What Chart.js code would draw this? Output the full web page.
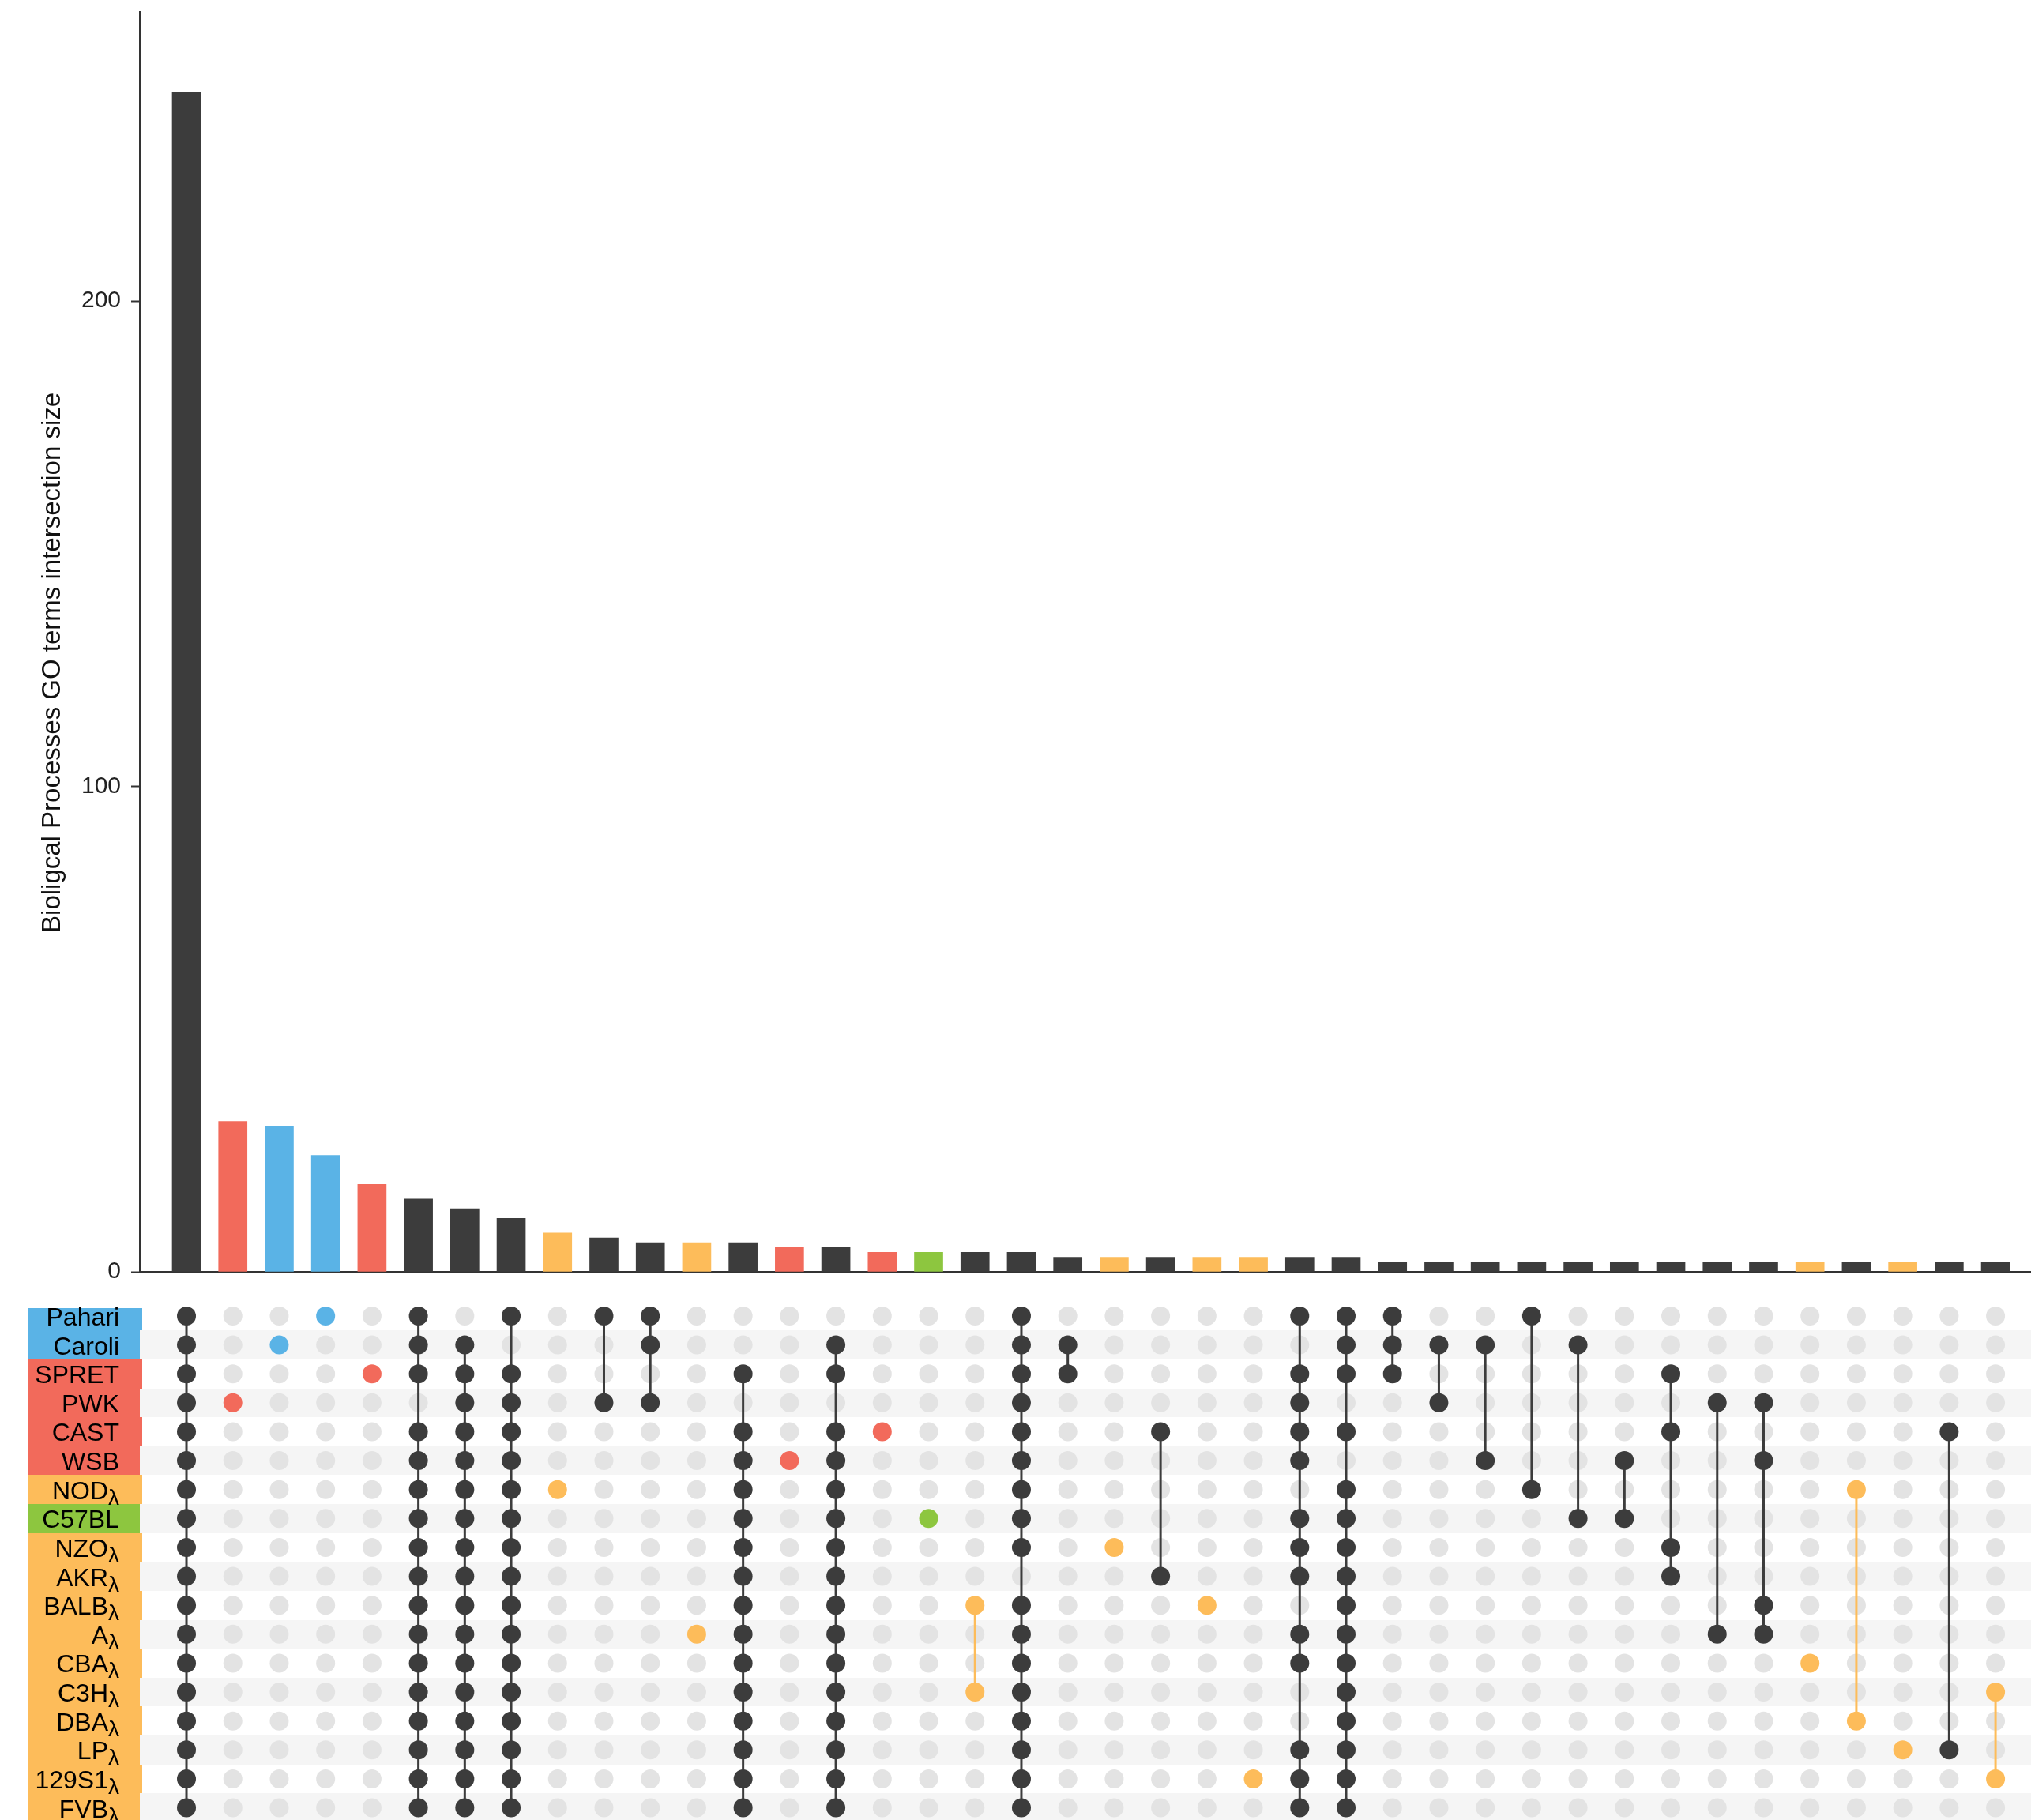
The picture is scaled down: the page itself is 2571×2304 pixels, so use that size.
<!DOCTYPE html>
<html>
<head>
<meta charset="utf-8">
<script src="https://cdn.jsdelivr.net/npm/chart.js@4.4.1/dist/chart.umd.min.js"></script>
<style>
  html, body { margin: 0; padding: 0; background: #ffffff; width: 2571px; height: 2304px; overflow: hidden; }
  #bars { position: absolute; left: 0; top: 0; }
  #matrix { position: absolute; left: 0; top: 1640px; }
</style>
</head>
<body>
<canvas id="bars" width="2571" height="1640"></canvas>
<canvas id="matrix" width="2571" height="664"></canvas>
<script>
// ---------------- DATA ----------------
const setNames = ['Pahari','Caroli','SPRET','PWK','CAST','WSB','NOD','C57BL','NZO','AKR','BALB','A','CBA','C3H','DBA','LP','129S1','FVB'];
const setSuffix = ['','','','','','','λ','','λ','λ','λ','λ','λ','λ','λ','λ','λ','λ'];
const setGroup = ['blue','blue','red','red','red','red','orange','green','orange','orange','orange','orange','orange','orange','orange','orange','orange','orange'];

const intersectionSizes = [243,31,30,24,18,15,13,11,8,7,6,6,6,5,5,4,4,4,4,3,3,3,3,3,3,3,2,2,2,2,2,2,2,2,2,2,2,2,2,2];

// one string per intersection (column); character r = membership of setNames[r]
const intersectionMembership = [
  '111111111111111111',
  '000100000000000000',
  '010000000000000000',
  '100000000000000000',
  '001000000000000000',
  '111011111111111111',
  '011111111111111111',
  '101111111111111111',
  '000000100000000000',
  '100100000000000000',
  '110100000000000000',
  '000000000001000000',
  '001011111111111111',
  '000001000000000000',
  '011011111111111111',
  '000010000000000000',
  '000000010000000000',
  '000000000010010000',
  '111111111011111111',
  '011000000000000000',
  '000000001000000000',
  '000010000100000000',
  '000000000010000000',
  '000000000000000010',
  '101111011101100111',
  '111010111111111111',
  '111000000000000000',
  '010100000000000000',
  '010001000000000000',
  '100000100000000000',
  '010000010000000000',
  '000001010000000000',
  '001010001100000000',
  '000100000001000000',
  '000101000011000000',
  '000000000000100000',
  '000000100000001000',
  '000000000000000100',
  '000010000000000100',
  '000000000000010010'
];

const yTicks = [0, 100, 200];
const yTitle = 'Bioligcal Processes GO terms intersection size';

// ---------------- STYLE ----------------
const groupColors = { blue: '#5AB3E6', red: '#F26A5B', orange: '#FDBC5A', green: '#8DC63F', none: '#3C3C3C' };
const emptyDot = '#E3E3E3';
const stripe = '#F5F5F5';
const FONT = '"Liberation Sans", Arial, Helvetica, sans-serif';
const xMin = -1.005, xMax = 39.765;

// ---------------- DERIVED ----------------
const members = intersectionMembership.map(s => [...s].map((ch, i) => ch === '1' ? i : -1).filter(i => i >= 0));
const colGroup = members.map(m => m.every(r => setGroup[r] === setGroup[m[0]]) ? setGroup[m[0]] : 'none');
const barColors = members.map(m => m.length === 1 ? groupColors[setGroup[m[0]]] : groupColors.none);

const barData = intersectionSizes.map((v, i) => ({ x: i, y: v }));

const memberPts = [], memberColors = [], emptyPts = [], darkLinks = [], colorLinks = [];
members.forEach((m, c) => {
  for (let r = 0; r < setNames.length; r++) {
    if (m.includes(r)) { memberPts.push({ x: c, y: r }); memberColors.push(groupColors[colGroup[c]]); }
    else emptyPts.push({ x: c, y: r });
  }
  if (m.length > 1) {
    const seg = [{ x: c, y: Math.min(...m) }, { x: c, y: Math.max(...m) }, { x: c, y: null }];
    if (colGroup[c] === 'none') darkLinks.push(...seg); else colorLinks.push(...seg);
  }
});

// ---------------- BAR CHART ----------------
const yTitlePlugin = {
  id: 'yTitle',
  afterDraw(chart) {
    const { ctx, scales: { y } } = chart;
    ctx.save();
    ctx.translate(67, y.getPixelForValue(125.5));
    ctx.rotate(-Math.PI / 2);
    ctx.font = '33px ' + FONT;
    ctx.fillStyle = '#111111';
    ctx.textAlign = 'center';
    ctx.textBaseline = 'middle';
    ctx.fillText(yTitle, 0, 0);
    ctx.restore();
  }
};

new Chart(document.getElementById('bars').getContext('2d'), {
  type: 'bar',
  data: { datasets: [{ data: barData, backgroundColor: barColors, barThickness: 36, borderWidth: 0 }] },
  options: {
    responsive: false, animation: false,
    layout: { padding: { top: 15, left: 0, right: 0, bottom: 0 } },
    plugins: { legend: { display: false }, tooltip: { enabled: false } },
    scales: {
      x: {
        type: 'linear', min: xMin, max: xMax, offset: false,
        ticks: { display: false },
        grid: { display: false, drawTicks: false, offset: false },
        border: { display: true, color: '#333333', width: 3 },
        afterFit(s) { s.height = 30; s.paddingLeft = 0; s.paddingRight = 0; }
      },
      y: {
        type: 'linear', min: 0, max: 259.6,
        afterBuildTicks(s) { s.ticks = yTicks.map(v => ({ value: v })); },
        ticks: { font: { family: FONT, size: 30 }, color: '#222222', padding: 13 },
        grid: { drawOnChartArea: false, drawTicks: true, tickLength: 11, tickWidth: 2, tickColor: '#333333' },
        border: { display: true, color: '#333333', width: 2 },
        title: { display: false },
        afterFit(s) { s.width = 177; s.paddingTop = 0; s.paddingBottom = 0; }
      }
    }
  },
  plugins: [yTitlePlugin]
});

// ---------------- MATRIX ----------------
const matrixDecor = {
  id: 'matrixDecor',
  beforeDatasetsDraw(chart) {
    const { ctx, chartArea, scales: { y } } = chart;
    ctx.save();
    setNames.forEach((n, r) => {
      const a = y.getPixelForValue(r - 0.5), b = y.getPixelForValue(r + 0.5);
      const top = Math.round(Math.max(Math.min(a, b), chartArea.top));
      const bot = Math.round(Math.min(Math.max(a, b), chartArea.bottom));
      ctx.fillStyle = groupColors[setGroup[r]];
      ctx.fillRect(36, top, 144, bot - top);
      if (r % 2 === 1) {
        ctx.fillStyle = stripe;
        ctx.fillRect(chartArea.left, top, chartArea.right - chartArea.left, bot - top);
      }
    });
    ctx.restore();
  },
  afterDraw(chart) {
    const { ctx, scales: { y } } = chart;
    ctx.save();
    ctx.fillStyle = '#000000';
    ctx.textBaseline = 'alphabetic';
    const right = 151;
    setNames.forEach((n, r) => {
      const yc = y.getPixelForValue(r);
      let subW = 0;
      if (setSuffix[r]) {
        ctx.font = '28px ' + FONT;
        subW = ctx.measureText(setSuffix[r]).width;
        ctx.textAlign = 'left';
        ctx.fillText(setSuffix[r], right - subW, yc + 19);
      }
      ctx.font = '32px ' + FONT;
      ctx.textAlign = 'right';
      ctx.fillText(n, right - subW, yc + 12);
    });
    ctx.restore();
  }
};

new Chart(document.getElementById('matrix').getContext('2d'), {
  type: 'scatter',
  data: {
    datasets: [
      { label: 'members', data: memberPts, pointRadius: 12, pointHoverRadius: 12, pointBackgroundColor: memberColors, pointBorderWidth: 0, borderWidth: 0, order: 0, clip: false },
      { label: 'links', type: 'line', data: darkLinks, borderColor: '#3C3C3C', borderWidth: 3, pointRadius: 0, showLine: true, spanGaps: false, fill: false, order: 1, clip: false },
      { label: 'linksColored', type: 'line', data: colorLinks, borderColor: groupColors.orange, borderWidth: 3, pointRadius: 0, showLine: true, spanGaps: false, fill: false, order: 1, clip: false },
      { label: 'empty', data: emptyPts, pointRadius: 12, pointHoverRadius: 12, pointBackgroundColor: emptyDot, pointBorderWidth: 0, borderWidth: 0, order: 2, clip: false }
    ]
  },
  options: {
    responsive: false, animation: false,
    layout: { autoPadding: false, padding: { left: 177, top: 16, right: 0, bottom: 0 } },
    plugins: { legend: { display: false }, tooltip: { enabled: false } },
    scales: {
      x: { type: 'linear', min: xMin, max: xMax, display: false },
      y: { type: 'linear', min: -0.273, max: 17.422, reverse: true, display: false }
    }
  },
  plugins: [matrixDecor]
});
</script>
</body>
</html>
